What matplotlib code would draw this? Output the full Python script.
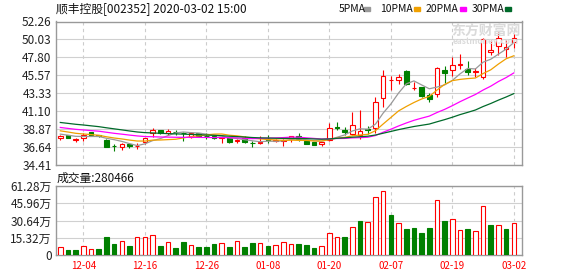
import matplotlib
matplotlib.use('Agg')
import matplotlib.pyplot as plt
from matplotlib.patches import Rectangle
import pandas as pd

plt.rcParams['font.family'] = ['Noto Sans CJK SC', 'DejaVu Sans']

# ============================================================
# 数据
# ============================================================
# 11-29 之前 29 个交易日收盘价，只用于算均线起点
prior_close = [41.2, 41.0, 40.8, 41.3, 41.1, 40.9, 40.7, 41.0, 40.8, 40.6,
               40.2, 39.9, 39.7, 39.8, 39.5, 39.3, 39.4, 39.2, 39.1, 38.9,
               39.3, 39.2, 39.0, 38.95, 38.9, 38.5, 38.3, 38.25, 38.2]

open_ = [37.80, 38.12, 37.55, 37.75, 38.50, 38.10, 37.58, 36.80, 36.67, 37.08,
         36.77, 37.29, 38.33, 38.75, 38.37, 38.55, 38.36, 37.92, 38.41, 38.06,
         38.00, 37.75, 37.75, 37.42, 37.83, 37.14, 37.17, 37.60, 37.40, 37.42,
         37.71, 38.04, 37.42, 37.29, 37.00, 37.56, 39.10, 38.75, 38.25, 38.10,
         38.90, 39.00, 42.69, 44.95, 45.00, 46.13, 43.95, 44.06, 43.12, 43.30,
         46.26, 46.26, 46.90, 46.40, 46.00, 45.30, 48.50, 49.25, 48.90, 49.65]
high = [38.20, 38.20, 37.83, 38.37, 38.55, 38.15, 37.60, 37.08, 37.16, 37.16,
        37.17, 37.83, 39.00, 38.80, 38.90, 38.80, 38.54, 38.54, 38.45, 38.41,
        38.05, 37.97, 37.80, 37.62, 37.96, 37.42, 38.04, 38.08, 37.60, 37.60,
        38.04, 38.33, 37.50, 37.33, 37.33, 39.60, 39.78, 39.08, 40.95, 41.20,
        39.20, 42.85, 46.24, 45.45, 45.76, 46.20, 44.70, 44.10, 43.37, 46.60,
        46.70, 47.84, 48.20, 47.30, 46.45, 50.20, 50.00, 50.90, 50.00, 50.75]
low = [37.55, 37.71, 37.33, 37.42, 38.10, 37.95, 36.62, 36.09, 36.33, 36.58,
       36.46, 37.00, 37.92, 38.30, 38.08, 38.16, 37.42, 37.83, 38.00, 37.62,
       37.70, 37.17, 37.15, 37.13, 37.17, 36.59, 37.00, 37.20, 37.25, 36.80,
       37.29, 37.42, 37.00, 36.88, 36.80, 37.42, 38.75, 38.17, 38.10, 37.70,
       38.30, 38.35, 41.63, 43.70, 44.48, 44.40, 43.75, 42.85, 42.22, 42.90,
       44.55, 45.45, 46.35, 45.60, 45.35, 45.15, 48.15, 48.10, 47.90, 49.00]
close = [38.00, 37.83, 37.60, 38.16, 38.18, 38.05, 36.67, 36.75, 37.08, 36.79,
         36.83, 37.75, 38.75, 38.33, 38.66, 38.50, 38.33, 38.37, 38.04, 38.02,
         37.75, 37.92, 37.21, 37.58, 37.29, 37.10, 37.33, 37.56, 37.50, 37.55,
         37.96, 37.67, 37.08, 36.92, 37.25, 39.00, 39.05, 38.55, 39.37, 38.60,
         38.75, 42.20, 45.43, 45.00, 45.40, 44.47, 44.05, 42.94, 42.60, 46.45,
         45.84, 46.84, 47.00, 46.00, 46.10, 50.05, 48.70, 50.15, 49.15, 50.15]
volume = [71000, 44000, 44000, 77000, 53000, 53000, 160000, 98000, 124000, 80000,
          157000, 157000, 175000, 80000, 115000, 62000, 115000, 86000, 71000, 71000,
          98000, 104000, 71000, 121000, 71000, 107000, 104000, 80000, 89000, 115000,
          95000, 98000, 89000, 62000, 77000, 193000, 163000, 157000, 246000, 302000,
          290000, 512000, 566000, 358000, 281000, 231000, 240000, 198000, 240000, 486000,
          302000, 317000, 219000, 231000, 210000, 432000, 266000, 264000, 231000, 280466]
# 成交量柱颜色 r=红 g=绿
vol_color = 'rggrrgggrg' 'rrrgrggrgg' 'grgrggrgrr' 'rgggrrrgrg' 'rrrgrggggr' 'grrgrrgrgr'

price_ticks = [34.41, 36.64, 38.87, 41.10, 43.33, 45.57, 47.80, 50.03, 52.26]
vol_ticks = [0, 153200, 306400, 459600, 612800]
vol_labels = ['0', '15.32万', '30.64万', '45.96万', '61.28万']
date_pos = [3, 11, 19, 27, 35, 43, 51, 59]
date_labels = ['12-04', '12-16', '12-26', '01-08', '01-20', '02-07', '02-19', '03-02']

ma_periods = [5, 10, 20, 30]
ma_colors = ['#999999', '#f0a000', '#ff00ff', '#006a2a']

RED = '#ff0000'
GREEN = '#008000'

# ============================================================
# 均线
# ============================================================
all_close = pd.Series(prior_close + close)
n = len(close)
mas = {p: all_close.rolling(p).mean().values[-n:] for p in ma_periods}

# ============================================================
# 画图
# ============================================================
W, H = 578, 276
fig = plt.figure(figsize=(W / 100, H / 100), dpi=100)
ax1 = fig.add_axes([55.7 / W, (H - 165) / H, 466.6 / W, 143.5 / H])
ax2 = fig.add_axes([55.7 / W, (H - 255) / H, 466.6 / W, 69 / H])

w = 0.6
for i in range(n):
    o, h, l, c = open_[i], high[i], low[i], close[i]
    up = c >= o
    col = RED if up else GREEN
    ax1.vlines(i, l, h, color=col, lw=0.8, zorder=2)
    ax1.add_patch(Rectangle((i - w / 2, min(o, c)), w, max(abs(c - o), 0.01),
                            facecolor='white' if up else col, edgecolor=col,
                            lw=0.8, zorder=3))
    vc = RED if vol_color[i] == 'r' else GREEN
    ax2.add_patch(Rectangle((i - w / 2, 0), w, volume[i],
                            facecolor='white' if vol_color[i] == 'r' else vc,
                            edgecolor=vc, lw=0.8, zorder=3))

for p, col in zip(ma_periods, ma_colors):
    ax1.plot(range(n), mas[p], color=col, lw=0.9, zorder=4)

ax1.set_ylim(34.41, 52.26)
ax1.set_yticks(price_ticks)
ax1.set_yticklabels([f'{v:.2f}' for v in price_ticks])
ax2.set_ylim(0, 612800)
ax2.set_yticks(vol_ticks)
ax2.set_yticklabels(vol_labels)

for ax in (ax1, ax2):
    ax.set_xlim(-0.6, 60.1)
    ax.grid(axis='y', color='#d0d0d0', lw=0.8, ls='-', zorder=0)
    for x in date_pos:
        ax.axvline(x, color='#cccccc', lw=0.8, ls=(0, (3, 3)), zorder=0)
    for s in ax.spines.values():
        s.set_color('#999999')
        s.set_linewidth(1.0)
    ax.tick_params(axis='y', length=0, pad=3, labelsize=8.5, labelcolor='#222222')
    ax.set_axisbelow(True)

ax1.set_xticks([])
ax2.set_xticks(date_pos)
ax2.set_xticklabels(date_labels)
ax2.tick_params(axis='x', length=0, pad=4, labelsize=7, labelcolor=RED)

# 标题 / 图例 / 成交量
fig.text(56 / W, 1 - 9 / H, '顺丰控股[002352] 2020-03-02 15:00', ha='left', va='center',
         fontsize=8.5, color='#111111')
fig.text(57 / W, 1 - 178 / H, '成交量:280466', ha='left', va='center',
         fontsize=8.5, color='#111111')

leg_x = [338.7, 379.7, 425.3, 471.3]
mark_x = [364.5, 414.0, 459.5, 504.5]
for p, col, tx, mx in zip(ma_periods, ma_colors, leg_x, mark_x):
    fig.text(tx / W, 1 - 9 / H, f'{p}PMA', ha='left', va='center', fontsize=7.5, color='#111111')
    fig.add_artist(Rectangle((mx / W, 1 - 10.5 / H), 6 / W, 3 / H, color=col,
                             transform=fig.transFigure))

# 水印
fig.text(486 / W, 1 - 31 / H, '东方财富网', ha='center', va='center', fontsize=10,
         fontweight='bold', color='#dadada', zorder=0)
fig.text(486 / W, 1 - 41.5 / H, 'eastmoney.com', ha='center', va='center', fontsize=6,
         fontweight='bold', color='#dadada', zorder=0)

fig.savefig('out.png', dpi=100)
